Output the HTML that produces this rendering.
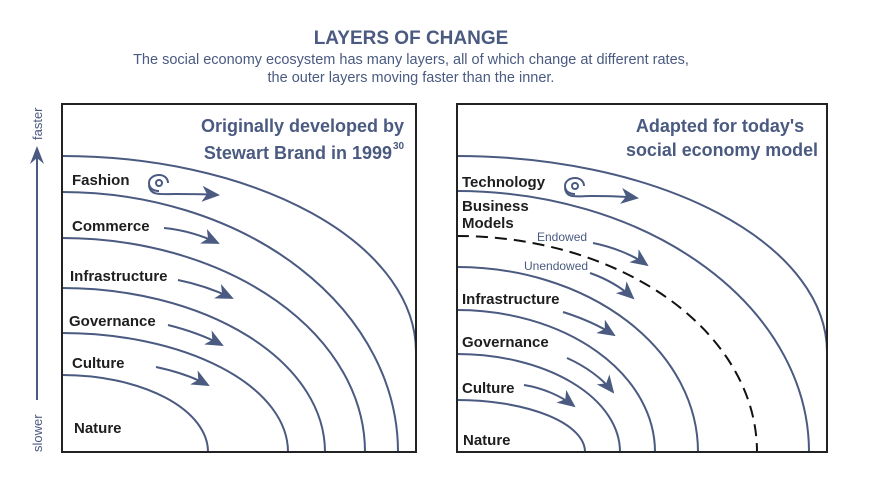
<!DOCTYPE html>
<html><head><meta charset="utf-8"><style>
html,body{margin:0;padding:0;background:#fff;width:870px;height:490px;overflow:hidden}
svg{display:block}
.l{font-family:"Liberation Sans",sans-serif;font-weight:bold;font-size:15px;fill:#1e1e1e}
.t{font-family:"Liberation Sans",sans-serif;font-weight:bold;font-size:18px;fill:#4a5a80}
.s{font-family:"Liberation Sans",sans-serif;font-size:12px;fill:#4a5a80}
</style></head><body>
<svg width="870" height="490" viewBox="0 0 870 490" xmlns="http://www.w3.org/2000/svg">
<defs>
<marker id="ah" markerWidth="18" markerHeight="16" refX="16" refY="8" orient="auto" markerUnits="userSpaceOnUse">
<path d="M0,0 L18,8 L0,16 L5,8 Z" fill="#4a5a80"/></marker>
</defs>
<text x="411" y="44" text-anchor="middle" font-family="Liberation Sans,sans-serif" font-weight="bold" font-size="19" fill="#4a5a80">LAYERS OF CHANGE</text>
<text x="411" y="64" text-anchor="middle" font-family="Liberation Sans,sans-serif" font-size="14.5" fill="#4a5a80">The social economy ecosystem has many layers, all of which change at different rates,</text>
<text x="411" y="82" text-anchor="middle" font-family="Liberation Sans,sans-serif" font-size="14.5" fill="#4a5a80">the outer layers moving faster than the inner.</text>

<line x1="37" y1="400" x2="37" y2="152" stroke="#4a5a80" stroke-width="2"/>
<path d="M30,164 L37,146 L44,164 L37,158 Z" fill="#4a5a80"/>
<text transform="translate(42,140) rotate(-90)" font-family="Liberation Sans,sans-serif" font-size="13" fill="#4a5a80">faster</text>
<text transform="translate(42,452) rotate(-90)" font-family="Liberation Sans,sans-serif" font-size="13" fill="#4a5a80">slower</text>

<g fill="none" stroke="#4a5a80" stroke-width="2">
<path d="M62,156 A354,196 0 0 1 416,352"/>
<path d="M62,192 A336,260 0 0 1 398,452"/>
<path d="M62,238 A303,214 0 0 1 365,452"/>
<path d="M62,288 A263,164 0 0 1 325,452"/>
<path d="M62,333 A226,119 0 0 1 288,452"/>
<path d="M62,375 A146,77 0 0 1 208,452"/>
<path d="M457,156 A370,196 0 0 1 827,352"/>
<path d="M457,191 A352,261 0 0 1 809,452"/>
<path d="M457,267 A241,185 0 0 1 698,452"/>
<path d="M457,310 A198,142 0 0 1 655,452"/>
<path d="M457,354 A163,98 0 0 1 620,452"/>
<path d="M457,400 A128,52 0 0 1 585,452"/>
<circle cx="159" cy="183" r="3"/>
<path d="M159,191 C152,191 149,187 149,183 C149,178 154,175 159,175 C165,175 168,179 168,183"/>
<circle cx="575" cy="186" r="3"/>
<path d="M575,194 C568,194 565,190 565,186 C565,181 570,178 575,178 C581,178 584,182 584,186"/>
</g>
<path d="M457,236 A300,216 0 0 1 757,452" fill="none" stroke="#111" stroke-width="2" stroke-dasharray="12,7"/>

<rect x="62" y="104" width="354" height="348" fill="none" stroke="#222" stroke-width="2"/>
<rect x="457" y="104" width="370" height="348" fill="none" stroke="#222" stroke-width="2"/>

<g fill="none" stroke="#4a5a80" stroke-width="2" marker-end="url(#ah)">
<path d="M149,185 C150,196 160,194 175,194 C190,194 205,194 218,195"/>
<path d="M164,228 C185,230 203,236 218,243"/>
<path d="M178,280 C198,284 215,290 232,298"/>
<path d="M168,325 C188,330 207,337 222,345"/>
<path d="M156,367 C175,371 193,377 208,385"/>
<path d="M565,188 C566,199 576,196 592,196 C607,196 622,196 637,198"/>
<path d="M593,243 C613,247 633,255 647,265"/>
<path d="M590,273 C607,279 622,288 633,298"/>
<path d="M563,312 C582,318 600,326 614,335"/>
<path d="M567,358 C585,366 602,378 613,392"/>
<path d="M524,385 C543,388 561,396 574,406"/>
</g>

<text x="404" y="132" text-anchor="end" class="t">Originally developed by</text>
<text x="392" y="159" text-anchor="end" class="t">Stewart Brand in 1999</text>
<text x="393" y="149" font-family="Liberation Sans,sans-serif" font-weight="bold" font-size="10" fill="#4a5a80">30</text>
<text x="720" y="132" text-anchor="middle" class="t">Adapted for today's</text>
<text x="722" y="156" text-anchor="middle" class="t" textLength="192" lengthAdjust="spacingAndGlyphs">social economy model</text>

<text x="72" y="185" class="l">Fashion</text>
<text x="72" y="231" class="l">Commerce</text>
<text x="70" y="281" class="l">Infrastructure</text>
<text x="69" y="326" class="l">Governance</text>
<text x="72" y="368" class="l">Culture</text>
<text x="74" y="433" class="l">Nature</text>
<text x="462" y="187" class="l">Technology</text>
<text x="462" y="211" class="l">Business</text>
<text x="462" y="228" class="l">Models</text>
<text x="537" y="241" class="s">Endowed</text>
<text x="524" y="270" class="s">Unendowed</text>
<text x="462" y="304" class="l">Infrastructure</text>
<text x="462" y="347" class="l">Governance</text>
<text x="462" y="393" class="l">Culture</text>
<text x="463" y="445" class="l">Nature</text>
</svg>
</body></html>
